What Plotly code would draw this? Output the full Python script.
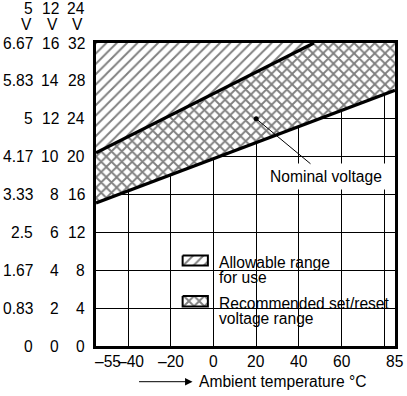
import plotly.graph_objects as go

# ---------------- data ----------------
temp_ticks = [-55, -40, -20, 0, 20, 40, 60, 85]
temp_grid = [-40, -20, 0, 20, 40, 60, 80]
v24_ticks = [0, 4, 8, 12, 16, 20, 24, 28, 32]
v5_labels = ["0", "0.83", "1.67", "2.5", "3.33", "4.17", "5", "5.83", "6.67"]
v12_labels = ["0", "2", "4", "6", "8", "10", "12", "14", "16"]
v24_labels = ["0", "4", "8", "12", "16", "20", "24", "28", "32"]
headers = ["5", "12", "24"]

upper_t = [-55, 47]
upper_v = [20.4, 32.0]
lower_t = [-55, 85]
lower_v = [15.1, 27.0]
nominal_t = [20]
nominal_v = [24]

X_MIN, X_MAX = -55, 85
Y_MIN, Y_MAX = 0, 32

# ---------------- geometry helpers ----------------
W, H = 407, 396
L, R, T, B = 96, 398, 43, 346
FONT = "Liberation Sans, Arial, Helvetica, sans-serif"
FS = 15.6


def px(x):
    return (x - L) / (R - L)


def py(y):
    return (B - y) / (B - T)


def dx(x):
    return X_MIN + (x - L) / (R - L) * (X_MAX - X_MIN)


def dy(y):
    return Y_MIN + (B - y) / (B - T) * (Y_MAX - Y_MIN)


HATCH_SLASH = dict(shape="/", size=7.3, solidity=0.26, fgcolor="black", bgcolor="white")
HATCH_CROSS = dict(shape="x", size=7.3, solidity=0.45, fgcolor="black", bgcolor="white")

fig = go.Figure()

# hatched region (allowable range) above upper line
fig.add_trace(go.Scatter(
    x=upper_t + [X_MIN], y=upper_v + [Y_MAX],
    fill="toself", mode="none", fillcolor="white",
    fillpattern=HATCH_SLASH,
    hoverinfo="skip", showlegend=False))

# cross-hatched region (recommended)
fig.add_trace(go.Scatter(
    x=lower_t + [X_MAX] + upper_t[::-1], y=lower_v + [Y_MAX] + upper_v[::-1],
    fill="toself", mode="none", fillcolor="white",
    fillpattern=HATCH_CROSS,
    hoverinfo="skip", showlegend=False))

# boundary lines
for tx, vy in ((upper_t, upper_v), (lower_t, lower_v)):
    fig.add_trace(go.Scatter(x=tx, y=vy, mode="lines",
                             line=dict(color="black", width=3.2),
                             hoverinfo="skip", showlegend=False, cliponaxis=True))

# nominal point
fig.add_trace(go.Scatter(x=nominal_t, y=nominal_v, mode="markers",
                         marker=dict(color="black", size=5),
                         hoverinfo="skip", showlegend=False))

# legend swatches
sw = [((183.5, 209), (255.5, 265.5), HATCH_SLASH), ((183.5, 209), (296, 306.5), HATCH_CROSS)]
for (x0, x1), (y0, y1), pat in sw:
    fig.add_trace(go.Scatter(
        x=[dx(x0), dx(x1), dx(x1), dx(x0), dx(x0)],
        y=[dy(y0), dy(y0), dy(y1), dy(y1), dy(y0)],
        fill="toself", mode="lines", fillcolor="white",
        line=dict(color="black", width=2),
        fillpattern=pat,
        hoverinfo="skip", showlegend=False))

shapes = [
    dict(type="rect", xref="paper", yref="paper", layer="between",
         x0=px(178), x1=px(396), y0=py(240), y1=py(333),
         fillcolor="white", line=dict(width=0)),
]

ann = []
# y labels (three columns)
cols = [(34.3, v5_labels), (60.7, v12_labels), (87.3, v24_labels)]
for xr, labs in cols:
    for v, t in zip(v24_ticks, labs):
        ann.append(dict(x=px(xr), xref="paper", y=v, yref="y", text=t,
                        xanchor="right", yanchor="middle", showarrow=False,
                        font=dict(size=FS, family=FONT, color="black")))
# headers
for (xr, _), h in zip(cols, headers):
    ann.append(dict(x=px(xr), xref="paper", y=py(8.5), yref="paper", text=h,
                    xanchor="right", yanchor="middle", showarrow=False,
                    font=dict(size=FS, family=FONT, color="black")))
v_right = [33.6, 59.5, 84.5]
for xr in v_right:
    ann.append(dict(x=px(xr), xref="paper", y=py(24.5), yref="paper", text="V",
                    xanchor="right", yanchor="middle", showarrow=False,
                    font=dict(size=FS, family=FONT, color="black")))
# x tick labels
nudge = {-55: 12, -40: 3}
for t in temp_ticks:
    lab = ("\u2013" + str(-t)) if t < 0 else str(t)
    ann.append(dict(x=t, xref="x", y=py(361.7), yref="paper", text=lab,
                    xanchor="center", yanchor="middle", showarrow=False,
                    xshift=nudge.get(t, 0),
                    font=dict(size=FS, family=FONT, color="black")))
# axis title with arrow
ann.append(dict(x=px(198.3), xref="paper", y=py(381), yref="paper",
                text="Ambient temperature \u00b0C", xanchor="left", yanchor="middle",
                showarrow=False, font=dict(size=FS, family=FONT, color="black")))
ann.append(dict(x=px(193.5), xref="paper", y=py(381.7), yref="paper", text="",
                showarrow=True, ax=-55, ay=0, axref="pixel", ayref="pixel",
                arrowhead=2, arrowsize=1.5, arrowwidth=1, arrowcolor="black"))
# nominal voltage label
ann.append(dict(x=nominal_t[0], y=nominal_v[0], xref="x", yref="y",
                text="Nominal voltage", showarrow=True, ax=70, ay=58,
                arrowhead=0, arrowwidth=1, arrowcolor="black",
                bgcolor="white", borderpad=4,
                font=dict(size=FS, family=FONT, color="black")))
# legend texts
leg = [("Allowable range", 262), ("for use", 277.5),
       ("Recommended set/reset", 303.7), ("voltage range", 318.5)]
for t, yc in leg:
    ann.append(dict(x=px(218.3), xref="paper", y=py(yc), yref="paper", text=t,
                    xanchor="left", yanchor="middle", showarrow=False,
                    font=dict(size=FS, family=FONT, color="black")))

fig.update_layout(
    width=W, height=H,
    margin=dict(l=L, r=W - R, t=T, b=H - B, pad=0),
    paper_bgcolor="white", plot_bgcolor="white",
    shapes=shapes, annotations=ann, showlegend=False,
    xaxis=dict(range=[X_MIN, X_MAX], tickvals=temp_grid, showticklabels=False,
               ticks="", showgrid=True, gridcolor="black", gridwidth=1,
               zeroline=False, showline=True, linecolor="black", linewidth=3,
               mirror=True, fixedrange=True),
    yaxis=dict(range=[Y_MIN, Y_MAX], tickvals=v24_ticks, showticklabels=False,
               ticks="", showgrid=True, gridcolor="black", gridwidth=1,
               zeroline=False, showline=True, linecolor="black", linewidth=3,
               mirror=True, fixedrange=True),
)

fig.write_html("out.html")
